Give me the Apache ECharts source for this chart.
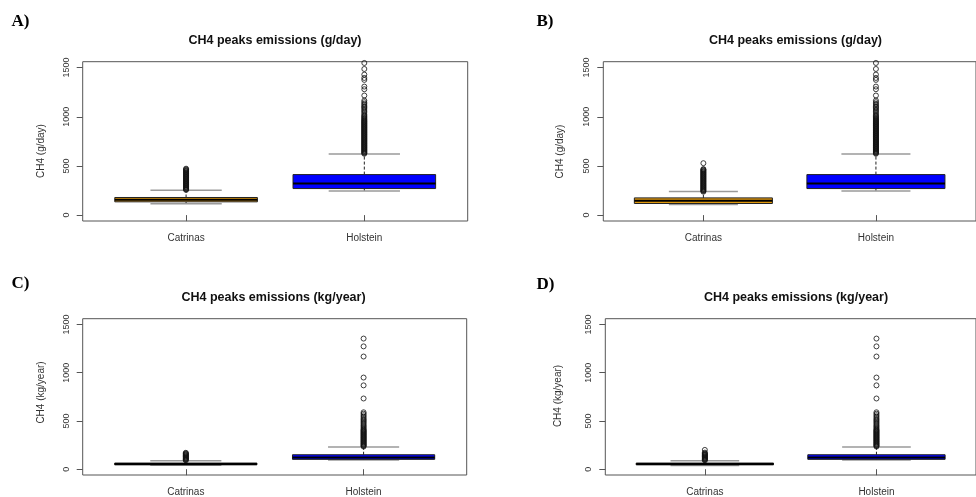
<!DOCTYPE html>
<html>
<head>
<meta charset="utf-8">
<script src="https://cdn.jsdelivr.net/npm/echarts@6/dist/echarts.min.js"></script>
<style>
  html, body { margin: 0; padding: 0; background: #fff; }
  #main { width: 976px; height: 497px; }
</style>
</head>
<body>
<div id="main"></div>
<script>
// categories and tick labels
const categories = ['Catrinas', 'Holstein'];
const yTicks = [0, 500, 1000, 1500];

// box stats per category: [lower whisker, Q1, median, Q3, upper whisker]
const boxA = [[115, 135, 157, 179, 253], [246, 270, 321, 412, 621]];
const boxB = [[108, 118, 145, 175, 240], [246, 270, 321, 412, 621]];
const boxC = [[40, 45, 54, 64, 88], [95, 102, 122, 150, 231]];
const boxD = [[38, 45, 54, 64, 88], [95, 102, 122, 150, 231]];

// outliers (g/day)
const catrinasOutA = [256, 262, 269, 276, 283, 290, 297, 304, 311, 318, 325, 332, 339, 346, 353, 360, 367, 374, 381, 388, 395, 402, 409, 416, 423, 430, 437, 444, 451, 458, 465, 472];
const catrinasOutB = [238, 245, 252, 259, 266, 273, 280, 287, 294, 301, 308, 315, 322, 329, 336, 343, 350, 357, 364, 371, 378, 385, 392, 399, 406, 413, 420, 427, 434, 441, 448, 455, 462, 468, 528];
const holsteinOutDay = [624, 631, 638, 645, 652, 659, 666, 673, 680, 687, 694, 701, 708, 715, 722, 729, 736, 743, 750, 757, 764, 771, 778, 785, 792, 799, 806, 813, 820, 827, 834, 841, 848, 855, 862, 869, 876, 883, 890, 897, 904, 911, 918, 925, 932, 939, 946, 953, 960, 968, 976, 985, 994, 1003, 1012, 1025, 1040, 1055, 1068, 1081, 1095, 1104, 1118, 1132, 1148, 1165, 1216, 1280, 1307, 1375, 1395, 1429, 1486, 1547];
// outliers (kg/year)
const catrinasOutC = [92, 98, 104, 110, 116, 122, 128, 134, 140, 146, 152, 158, 164, 170];
const catrinasOutD = [92, 98, 104, 110, 116, 122, 128, 134, 140, 146, 152, 158, 164, 172, 200];
const holsteinOutYear = [235, 242, 249, 256, 263, 270, 277, 284, 291, 298, 305, 312, 319, 326, 333, 340, 347, 354, 361, 368, 375, 382, 389, 396, 403, 410, 420, 432, 444, 455, 468, 480, 492, 505, 517, 530, 545, 560, 575, 590, 733, 869, 950, 1168, 1273, 1354];

const boxColors = ['#E39A0C', '#0000FF'];
const font = 'Liberation Sans, Arial, sans-serif';

const panels = [
  { tag: 'A)', title: 'CH4 peaks emissions (g/day)', ylab: 'CH4 (g/day)', box: boxA, out: [catrinasOutA, holsteinOutDay],
    grid: { left: 82.7, top: 61.7, width: 385, height: 159.3 }, tagPos: [11.5, 22], titlePos: [275, 41], ylabPos: [41.5, 151] },
  { tag: 'B)', title: 'CH4 peaks emissions (g/day)', ylab: 'CH4 (g/day)', box: boxB, out: [catrinasOutB, holsteinOutDay],
    grid: { left: 603.3, top: 61.7, width: 385, height: 159.3 }, tagPos: [536.5, 22], titlePos: [795.5, 41], ylabPos: [560, 151.5] },
  { tag: 'C)', title: 'CH4 peaks emissions (kg/year)', ylab: 'CH4 (kg/year)', box: boxC, out: [catrinasOutC, holsteinOutYear],
    grid: { left: 82.7, top: 318.7, width: 384, height: 159.6 }, tagPos: [11.5, 284], titlePos: [273.5, 297.5], ylabPos: [41.5, 392.5] },
  { tag: 'D)', title: 'CH4 peaks emissions (kg/year)', ylab: 'CH4 (kg/year)', box: boxD, out: [catrinasOutD, holsteinOutYear],
    grid: { left: 605.3, top: 318.7, width: 384, height: 159.6 }, tagPos: [536.5, 285], titlePos: [796, 297.5], ylabPos: [558.5, 396] }
];

function renderBox(params, api) {
  const x = api.value(0);
  const low = api.value(1), q1 = api.value(2), med = api.value(3), q3 = api.value(4), high = api.value(5);
  const fill = boxColors[api.value(6)];
  const p = (xx, yy) => api.coord([xx, yy]);
  const ln = (a, b, style) => ({ type: 'line', shape: { x1: a[0], y1: a[1], x2: b[0], y2: b[1] }, style: style });
  const dash = { stroke: '#222', lineWidth: 1, lineDash: [3, 2] };
  const gray = { stroke: '#9a9a9a', lineWidth: 1.5 };
  const tl = p(x - 0.4, q3), br = p(x + 0.4, q1);
  return {
    type: 'group',
    children: [
      ln(p(x, q3), p(x, high), dash),
      ln(p(x, low), p(x, q1), dash),
      ln(p(x - 0.2, high), p(x + 0.2, high), gray),
      ln(p(x - 0.2, low), p(x + 0.2, low), gray),
      { type: 'rect', shape: { x: tl[0], y: tl[1], width: br[0] - tl[0], height: br[1] - tl[1] },
        style: { fill: fill, stroke: '#222', lineWidth: 1 } },
      ln(p(x - 0.4, med), p(x + 0.4, med), { stroke: '#000', lineWidth: 2 })
    ]
  };
}

const grids = [], xAxes = [], yAxes = [], series = [], graphics = [];
panels.forEach((pn, i) => {
  grids.push(Object.assign({ show: true, borderColor: '#555', borderWidth: 1, backgroundColor: 'transparent' }, pn.grid));
  xAxes.push({
    type: 'value', gridIndex: i, min: 0.42, max: 2.58,
    axisLine: { show: false }, splitLine: { show: false },
    axisTick: { show: true, customValues: [1, 2], length: 6, lineStyle: { color: '#555' } },
    axisLabel: { customValues: [1, 2], margin: 12, color: '#333', fontSize: 10, fontFamily: font,
      formatter: v => categories[Math.round(v) - 1] }
  });
  yAxes.push({
    type: 'value', gridIndex: i, min: -60, max: 1560,
    axisLine: { show: false }, splitLine: { show: false },
    axisTick: { show: true, customValues: yTicks, length: 6, lineStyle: { color: '#555' } },
    axisLabel: { customValues: yTicks, rotate: 90, margin: 12, color: '#333', fontSize: 9, fontFamily: font,
      formatter: v => String(v) }
  });
  series.push({
    type: 'custom', xAxisIndex: i, yAxisIndex: i, renderItem: renderBox, silent: true,
    encode: { x: 0, y: [1, 2, 3, 4, 5] },
    data: pn.box.map((b, k) => [k + 1].concat(b, [k]))
  });
  const pts = [];
  pn.out.forEach((arr, k) => arr.forEach(v => pts.push([k + 1, v])));
  series.push({
    type: 'scatter', xAxisIndex: i, yAxisIndex: i, silent: true, symbol: 'circle', symbolSize: 5,
    itemStyle: { color: 'rgba(0,0,0,0)', borderColor: '#111', borderWidth: 1 },
    data: pts
  });
  graphics.push(
    { type: 'text', x: pn.tagPos[0], y: pn.tagPos[1],
      style: { text: pn.tag, font: 'bold 17px "Liberation Serif", "Times New Roman", serif', fill: '#000', textVerticalAlign: 'middle' } },
    { type: 'text', x: pn.titlePos[0], y: pn.titlePos[1],
      style: { text: pn.title, font: 'bold 12.5px ' + font, fill: '#111', textAlign: 'center', textVerticalAlign: 'middle' } },
    { type: 'text', x: pn.ylabPos[0], y: pn.ylabPos[1], rotation: Math.PI / 2,
      style: { text: pn.ylab, font: '10px ' + font, fill: '#333', textAlign: 'center', textVerticalAlign: 'middle' } }
  );
});

const chart = echarts.init(document.getElementById('main'), null, { renderer: 'canvas' });
chart.setOption({
  backgroundColor: '#fff',
  animation: false,
  grid: grids,
  xAxis: xAxes,
  yAxis: yAxes,
  series: series,
  graphic: graphics
});
</script>
</body>
</html>
